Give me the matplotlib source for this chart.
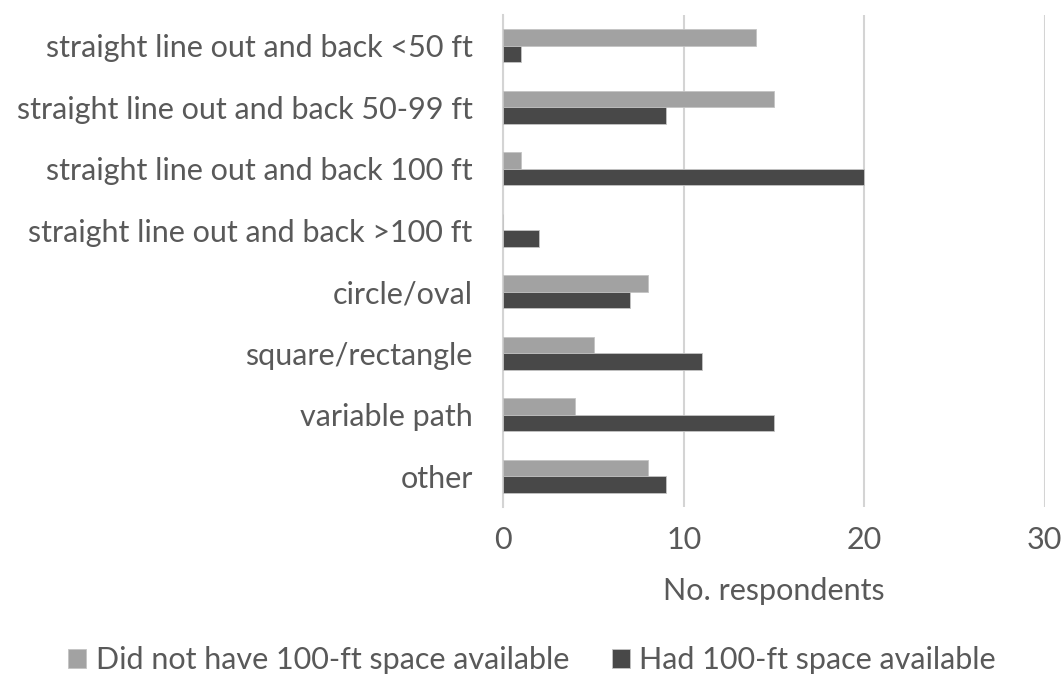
import matplotlib
matplotlib.use("Agg")
import matplotlib.pyplot as plt
import numpy as np

categories = [
    "straight line out and back <50 ft",
    "straight line out and back 50-99 ft",
    "straight line out and back 100 ft",
    "straight line out and back >100 ft",
    "circle/oval",
    "square/rectangle",
    "variable path",
    "other",
]
no_space = [14, 15, 1, 0, 8, 5, 4, 8]
had_space = [1, 9, 20, 2, 7, 11, 15, 9]
series_names = ["Did not have 100-ft space available", "Had 100-ft space available"]
x_ticks = [0, 10, 20, 30]

LIGHT = "#a2a2a2"
DARK = "#484848"
TEXT = "#595959"
GRID = "#d4d4d4"
FS = 22

plt.rcParams["font.family"] = ["Lato", "DejaVu Sans"]

fig = plt.figure(figsize=(10.64, 6.75), dpi=100)
ax = fig.add_axes([0.473, 0.249, 0.509, 0.729])

y = np.arange(len(categories))
h = 0.27
ax.barh(y - h / 2, no_space, height=h, color=LIGHT, edgecolor="#c4c4c4",
        linewidth=0.6, label=series_names[0], zorder=3)
ax.barh(y + h / 2, had_space, height=h, color=DARK, edgecolor="#c4c4c4",
        linewidth=0.6, label=series_names[1], zorder=3)

ax.set_ylim(len(categories) - 0.5, -0.5)
ax.set_xlim(0, 30)
ax.set_yticks(y)
ax.set_yticklabels(categories, fontsize=FS, color=TEXT)
ax.set_xticks(x_ticks)
ax.set_xticklabels([str(t) for t in x_ticks], fontsize=FS, color=TEXT)
ax.tick_params(axis="both", length=0)
ax.tick_params(axis="y", pad=22)
ax.tick_params(axis="x", pad=14)

ax.grid(axis="x", color=GRID, linewidth=1.5, zorder=0)
for side in ["top", "right", "bottom"]:
    ax.spines[side].set_visible(False)
ax.spines["left"].set_color(GRID)
ax.spines["left"].set_linewidth(1.5)

ax.set_xlabel("No. respondents", fontsize=FS, color=TEXT, labelpad=16)

fig.legend(loc="center", bbox_to_anchor=(0.5, 0.022), ncol=2, frameon=False,
           fontsize=FS, labelcolor=TEXT, handlelength=0.6, handleheight=0.6,
           handletextpad=0.3, columnspacing=1.4)

fig.savefig("out.png", dpi=100)
